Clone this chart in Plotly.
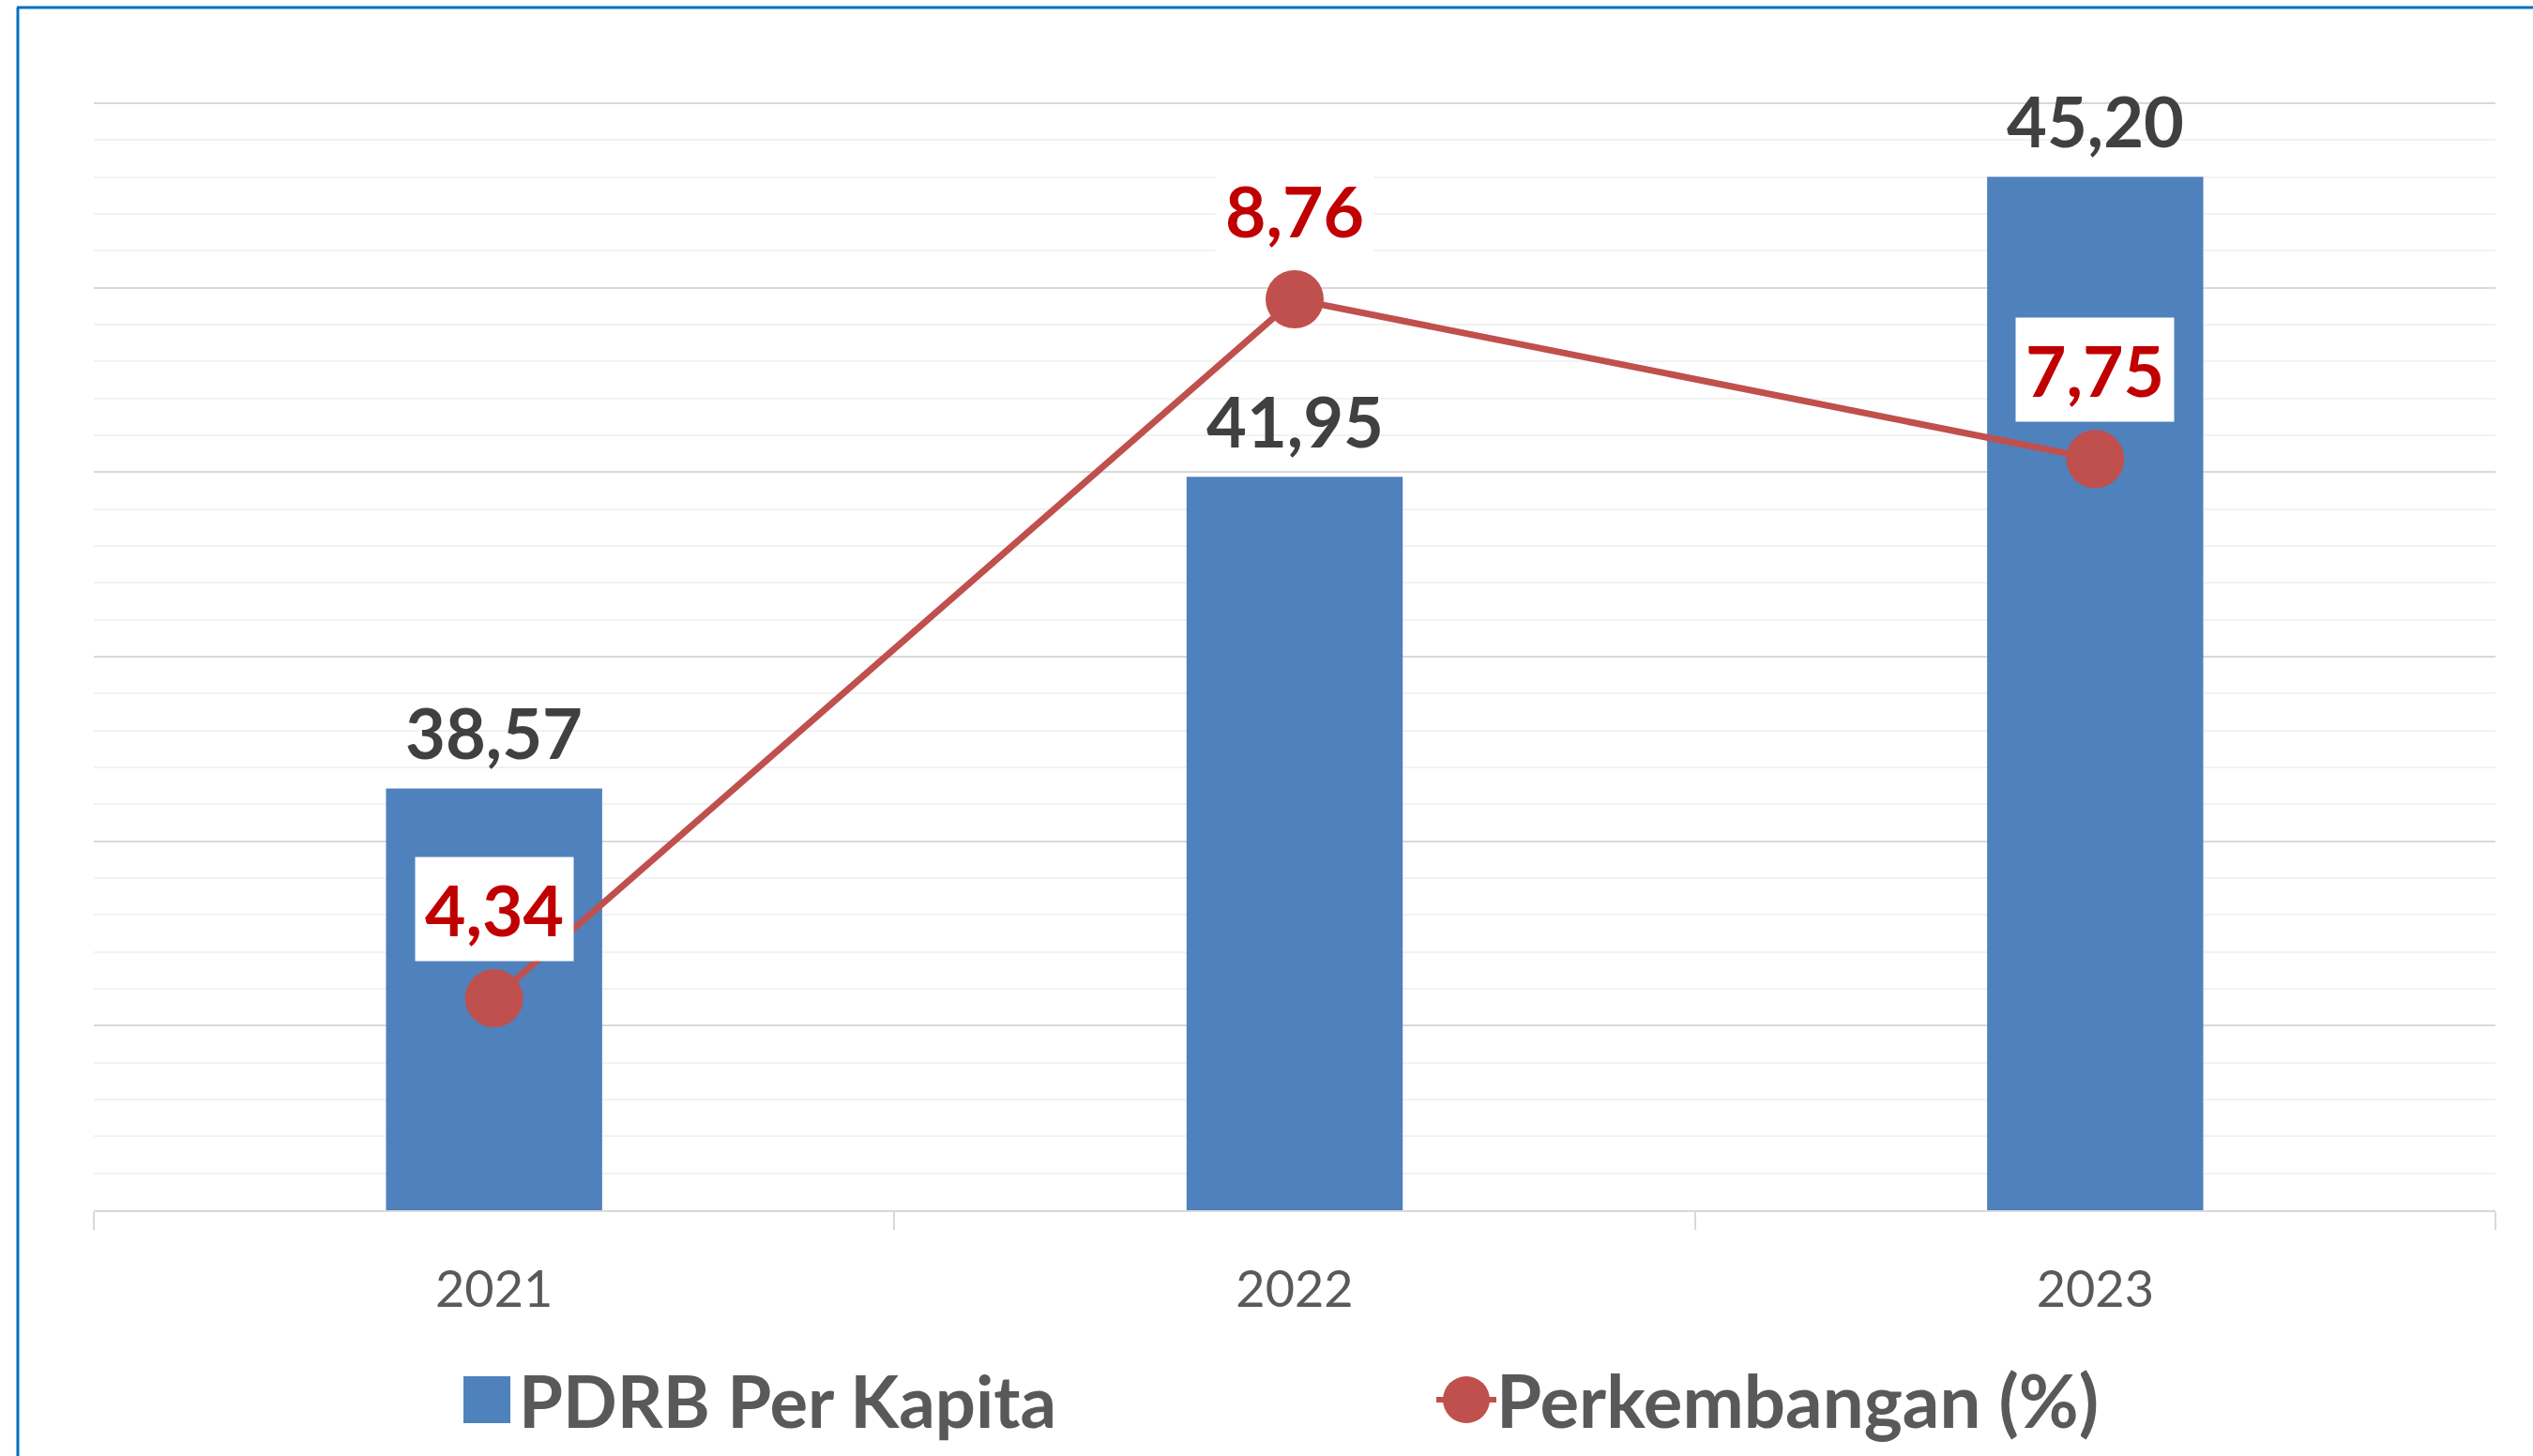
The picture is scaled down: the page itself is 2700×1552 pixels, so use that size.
import plotly.graph_objects as go

# ---- data ----
years = ["2021", "2022", "2023"]
pdrb = [38.57, 41.95, 45.20]
growth = [4.34, 8.76, 7.75]
series_names = ["PDRB Per Kapita", "Perkembangan (%)"]


def fmt(v):
    return f"{v:.2f}".replace(".", ",")


# ---- geometry ----
W, H = 2700, 1552
ML, MR, MT, MB = 100, 40, 107, 262
PW, PH = W - ML - MR, H - MT - MB


def px_x(p):
    return (p - ML) / PW


def px_y(p):
    return (H - MB - p) / PH


BAR_C = "#4F81BD"
LINE_C = "#C0504D"
FONT = "Lato, 'Open Sans', sans-serif"

fig = go.Figure()
fig.add_bar(x=years, y=pdrb, width=0.27, marker=dict(color=BAR_C, line=dict(width=0)),
            name=series_names[0], showlegend=False)
fig.add_scatter(x=years, y=growth, yaxis="y2", mode="lines+markers",
                line=dict(color=LINE_C, width=7),
                marker=dict(size=62, color=LINE_C), name=series_names[1], showlegend=False)

ann = []
for i, v in enumerate(pdrb):
    ann.append(dict(x=i, y=v, xref="x", yref="y", text=fmt(v), showarrow=False,
                    yanchor="middle", yshift=60,
                    font=dict(family=FONT, size=74, color="#404040", weight="bold")))
for i, v in enumerate(growth):
    ann.append(dict(x=i, y=v, xref="x", yref="y2", text=fmt(v), showarrow=False,
                    yanchor="middle", yshift=95, bgcolor="white", borderpad=10,
                    font=dict(family=FONT, size=75, color="#C00000", weight="bold")))

# manual legend (large symbols)
LEG_Y = 1492
ann.append(dict(x=px_x(551), y=px_y(LEG_Y), xref="paper", yref="paper", text=series_names[0],
                showarrow=False, xanchor="left", yanchor="middle",
                font=dict(family=FONT, size=76, color="#595959", weight="bold")))
ann.append(dict(x=px_x(1593), y=px_y(LEG_Y), xref="paper", yref="paper", text=series_names[1],
                showarrow=False, xanchor="left", yanchor="middle",
                font=dict(family=FONT, size=78, color="#595959", weight="bold")))

shapes = [
    dict(type="rect", xref="paper", yref="paper", x0=px_x(494), x1=px_x(544),
         y0=px_y(1517), y1=px_y(1467), fillcolor=BAR_C, line=dict(width=0)),
    dict(type="line", xref="paper", yref="paper", x0=px_x(1531), x1=px_x(1595),
         y0=px_y(LEG_Y), y1=px_y(LEG_Y), line=dict(color=LINE_C, width=6)),
    dict(type="circle", xref="paper", yref="paper", x0=px_x(1538), x1=px_x(1588),
         y0=px_y(LEG_Y + 25), y1=px_y(LEG_Y - 25), fillcolor=LINE_C, line=dict(width=0)),
    # outer blue frame (left and top)
    dict(type="line", xref="paper", yref="paper", x0=px_x(19), x1=px_x(19),
         y0=px_y(H + 5), y1=px_y(8), line=dict(color="#0070C0", width=3)),
    dict(type="line", xref="paper", yref="paper", x0=px_x(18), x1=px_x(W + 5),
         y0=px_y(8), y1=px_y(8), line=dict(color="#0070C0", width=3)),
]

fig.update_layout(
    width=W, height=H,
    margin=dict(l=ML, r=MR, t=MT, b=MB),
    paper_bgcolor="white", plot_bgcolor="white",
    showlegend=False,
    annotations=ann, shapes=shapes,
    xaxis=dict(type="category", range=[-0.5, 2.5], showgrid=False,
               showline=True, linecolor="#D9D9D9", linewidth=2,
               ticks="outside", tickson="boundaries", ticklen=19, tickwidth=2,
               tickcolor="#D9D9D9", ticklabelstandoff=36,
               tickfont=dict(family=FONT, size=54, color="#595959")),
    yaxis=dict(range=[34, 46.03], tick0=34, dtick=2, showgrid=True, gridcolor="#D9D9D9",
               gridwidth=2, zeroline=False, showticklabels=False, ticks="",
               minor=dict(dtick=0.4, showgrid=True, gridcolor="#F2F2F2", gridwidth=2)),
    yaxis2=dict(range=[3, 10.0175], overlaying="y", side="right", visible=False),
    bargap=0.73,
)

fig.write_html("out.html", config={"displayModeBar": False},
               post_script="document.body.style.margin='0';document.body.style.overflow='hidden';")
